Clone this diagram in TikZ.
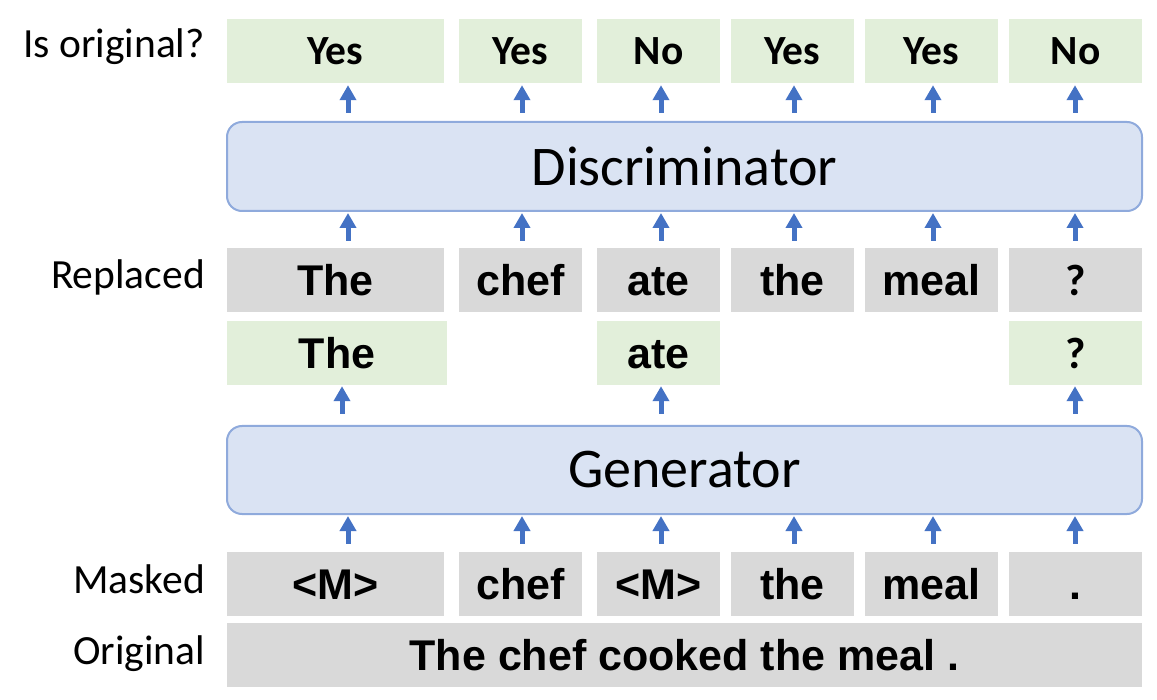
\documentclass[tikz,border=0pt]{standalone}
\usepackage{fontspec}
\setmainfont{Carlito}
\newfontfamily\tokfont{Liberation Sans}
\usepackage{tikz}
\usetikzlibrary{arrows.meta,positioning}
\definecolor{okgreen}{HTML}{E2EFDA}
\definecolor{tokgray}{HTML}{D9D9D9}
\definecolor{modfill}{HTML}{DAE3F3}
\definecolor{modline}{HTML}{8FAADC}
\definecolor{arrblue}{HTML}{4472C4}
\tikzset{
    %Define style for token boxes
    tok/.style={
           rectangle,
           fill=tokgray,
           inner sep=0pt,
           minimum height=64pt,
           text height=31pt,
           text depth=0pt,
           font=\tokfont\bfseries\fontsize{43}{43}\selectfont},
    genok/.style={
           tok,
           fill=okgreen},
    answer/.style={
           rectangle,
           fill=okgreen,
           inner sep=0pt,
           minimum height=64pt,
           font=\bfseries\fontsize{41.5}{41.5}\selectfont},
    qmark/.style={
           font=\bfseries\fontsize{44}{44}\selectfont},
    %Define style for the two models
    model/.style={
           rectangle,
           rounded corners=15pt,
           draw=modline, line width=2pt,
           fill=modfill,
           minimum width=915pt,
           font=\fontsize{56}{56}\selectfont},
    rowlabel/.style={
           anchor=base east,
           inner sep=0pt,
           font=\fontsize{41.5}{41.5}\selectfont},
    % Define arrow style
    up/.style={
           -{Triangle[length=15pt,width=16pt]},
           draw=arrblue,
           line width=5pt}
}
\begin{document}
\begin{tikzpicture}[x=1pt,y=-1pt]
\useasboundingbox (0,0) rectangle (1157,700);
 %columns of the arrows
\coordinate (c1) at (348,0);
\coordinate (c2) at (522,0);
\coordinate (c3) at (661,0);
\coordinate (c4) at (794,0);
\coordinate (c5) at (933,0);
\coordinate (c6) at (1075,0);
\coordinate (c0) at (342,0);
 %row labels
\node[rowlabel](l1) at (205,58){Is original?};
\node[rowlabel](l2) at (205,289){Replaced};
\node[rowlabel](l3) at (205,593){Masked};
\node[rowlabel](l4) at (205,664){Original};
 %is original?
\node[answer, minimum width=217pt](o1) at (335.5,51){Yes};
\node[answer, minimum width=123pt](o2) at (520.5,51){Yes};
\node[answer, minimum width=123pt](o3) at (658.5,51){No};
\node[answer, minimum width=123pt](o4) at (792.5,51){Yes};
\node[answer, minimum width=133pt](o5) at (931.5,51){Yes};
\node[answer, minimum width=133pt](o6) at (1075.5,51){No};
 %models
\node[model, minimum height=89pt](dis) at (684.5,166.5){Discriminator};
\node[model, minimum height=88pt](gen) at (684.5,470){Generator};
 %replaced
\node[tok, minimum width=217pt](r1) at (335.5,280){The};
\node[tok, minimum width=123pt](r2) at (520.5,280){chef};
\node[tok, minimum width=123pt](r3) at (658.5,280){ate};
\node[tok, minimum width=123pt](r4) at (792.5,280){the};
\node[tok, minimum width=133pt](r5) at (931.5,280){meal};
\node[tok, qmark, minimum width=133pt](r6) at (1075.5,280){?};
 %sampled by the generator
\node[genok, minimum width=220pt](g1) at (337,353){The};
\node[genok, minimum width=123pt](g3) at (658.5,353){ate};
\node[genok, qmark, minimum width=133pt](g6) at (1075.5,353){?};
 %masked
\node[tok, minimum width=217pt](m1) at (335.5,584){<M>};
\node[tok, minimum width=123pt](m2) at (520.5,584){chef};
\node[tok, minimum width=123pt](m3) at (658.5,584){<M>};
\node[tok, minimum width=123pt](m4) at (792.5,584){the};
\node[tok, minimum width=133pt](m5) at (931.5,584){meal};
\node[tok, minimum width=133pt](m6) at (1075.5,584){.};
 %original
\node[tok, minimum width=915pt](orig) at (684.5,655){The chef cooked the meal .};
 %arrows
\foreach \i in {1,...,6}{
  \draw[up, shorten <=8pt, shorten >=2pt] (dis.north -| c\i) -- (o\i.south -| c\i);
  \draw[up, shorten <=7pt, shorten >=1pt] (r\i.north -| c\i) -- (dis.south -| c\i);
  \draw[up, shorten <=8pt, shorten >=1pt] (m\i.north -| c\i) -- (gen.south -| c\i);
}
\draw[up, shorten <=11pt, shorten >=1pt] (gen.north -| c0) -- (g1.south -| c0);
\draw[up, shorten <=11pt, shorten >=1pt] (gen.north -| c3) -- (g3.south -| c3);
\draw[up, shorten <=11pt, shorten >=1pt] (gen.north -| c6) -- (g6.south -| c6);
\end{tikzpicture}
\end{document}
